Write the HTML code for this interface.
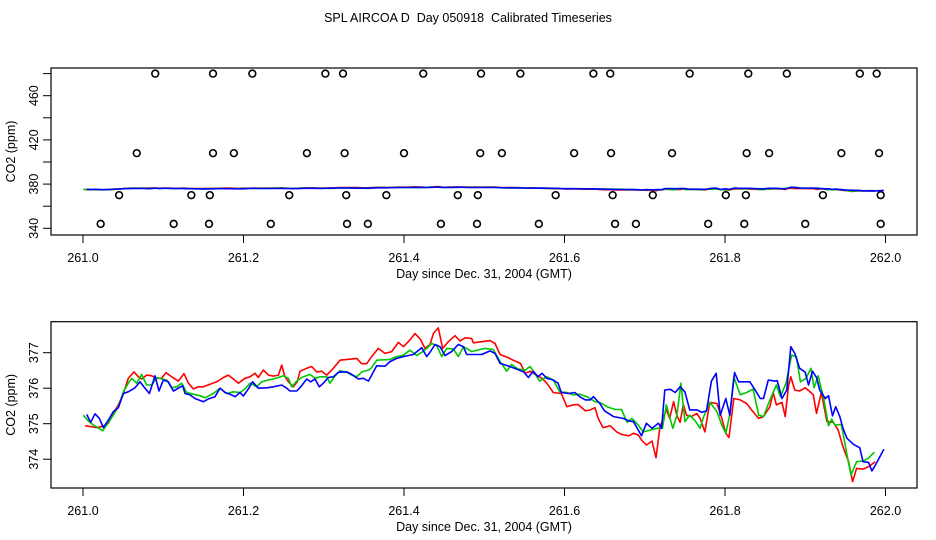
<!DOCTYPE html>
<html><head><meta charset="utf-8"><style>
html,body{margin:0;padding:0;background:#fff;}
svg{display:block;font-family:"Liberation Sans",sans-serif;}
</style></head><body>
<svg id="chart" width="936" height="540" viewBox="0 0 936 540" xmlns="http://www.w3.org/2000/svg">
<text x="468" y="22" font-size="12.5" text-anchor="middle" style="white-space:pre" xml:space="preserve">SPL AIRCOA D  Day 050918  Calibrated Timeseries</text>
</svg>
<script>
// ---- data (days are fraction after day 261) ----
const xTicks = [261.0, 261.2, 261.4, 261.6, 261.8, 262.0];
const topYTicks = [340, 360, 380, 400, 420, 440, 460, 480];
const topYLabels = [340, 380, 420, 460];
const botYTicks = [374, 375, 376, 377];

const redDays = [0.0025,0.0087,0.017,0.0253,0.0316,0.0378,0.044,0.0503,0.0565,0.0636,0.069,0.0731,0.0793,0.0856,0.0918,0.098,0.1034,0.1105,0.1188,0.1259,0.1313,0.1375,0.1437,0.15,0.1583,0.1666,0.1749,0.1811,0.1873,0.1936,0.2019,0.2081,0.2143,0.2185,0.2247,0.231,0.2372,0.2435,0.2476,0.2517,0.2559,0.2621,0.2671,0.2704,0.2787,0.285,0.2912,0.2974,0.3037,0.312,0.3203,0.341,0.3473,0.3535,0.3597,0.368,0.3763,0.3847,0.393,0.3992,0.4075,0.4137,0.42,0.4262,0.4324,0.4366,0.4428,0.4482,0.4553,0.4636,0.4698,0.4761,0.4844,0.4864,0.4968,0.5072,0.5134,0.5197,0.530,0.536,0.545,0.551,0.557,0.565,0.572,0.578,0.586,0.596,0.603,0.611,0.617,0.626,0.632,0.638,0.642,0.648,0.657,0.665,0.671,0.680,0.686,0.692,0.696,0.702,0.709,0.714,0.719,0.722,0.727,0.731,0.736,0.740,0.744,0.748,0.752,0.758,0.765,0.769,0.775,0.781,0.790,0.796,0.801,0.805,0.811,0.819,0.827,0.833,0.842,0.848,0.856,0.860,0.864,0.871,0.875,0.879,0.882,0.887,0.893,0.900,0.906,0.910,0.914,0.920,0.927,0.935,0.941,0.947,0.954,0.959,0.964,0.972,0.979,0.987];
const redVals = [374.94,374.92,374.89,374.93,375.01,375.29,375.53,375.85,376.28,376.46,376.32,376.26,376.37,376.35,376.28,376.28,376.44,376.32,376.2,376.41,376.14,375.98,376.04,376.04,376.11,376.18,376.3,376.37,376.26,376.14,376.28,376.32,376.42,376.3,376.51,376.37,376.34,376.37,376.65,376.32,376.18,376.04,376.18,376.48,376.56,376.61,376.46,376.48,376.37,376.56,376.79,376.84,376.69,376.69,376.89,377.12,376.98,377.03,377.29,377.17,377.36,377.54,377.39,377.12,377.23,377.54,377.7,377.12,377.31,377.48,377.33,377.42,377.4,377.28,377.31,377.34,377.26,376.95,376.86,376.79,376.7,376.42,376.48,376.37,376.28,376.14,375.88,375.85,375.48,375.53,375.54,375.36,375.39,375.45,375.15,374.89,374.94,374.77,374.70,374.66,374.73,374.68,374.54,374.4,374.51,374.04,374.92,375.08,375.4,375.15,375.62,375.23,375.04,375.54,375.24,375.2,375.29,375.15,374.77,375.6,375.57,375.15,374.73,374.61,375.71,375.67,375.57,375.39,375.15,375.2,375.48,375.88,375.53,375.6,375.2,376.04,376.32,375.95,375.92,376.01,375.9,375.81,375.29,375.88,375.06,375.04,374.82,374.35,373.93,373.37,373.74,373.72,373.79,373.93];

const greenDays = [0.0004,0.0066,0.0129,0.0212,0.0245,0.0295,0.0378,0.044,0.0503,0.0565,0.0607,0.0669,0.0731,0.0793,0.0856,0.0918,0.098,0.1043,0.1105,0.1167,0.123,0.1292,0.1375,0.1458,0.152,0.1624,0.1707,0.179,0.1873,0.1956,0.2019,0.2081,0.2164,0.2227,0.231,0.2372,0.2435,0.2497,0.2559,0.2601,0.2663,0.2725,0.2829,0.2891,0.2954,0.3037,0.3078,0.3141,0.3203,0.3286,0.3348,0.341,0.3473,0.3556,0.3597,0.366,0.3826,0.3909,0.3992,0.4075,0.4158,0.422,0.4283,0.4345,0.4407,0.447,0.4532,0.4615,0.4677,0.474,0.4844,0.4927,0.501,0.5113,0.5197,0.528,0.534,0.542,0.551,0.557,0.563,0.569,0.578,0.586,0.594,0.603,0.611,0.619,0.628,0.638,0.644,0.653,0.663,0.671,0.678,0.684,0.692,0.698,0.707,0.715,0.722,0.727,0.735,0.740,0.745,0.750,0.756,0.763,0.769,0.773,0.781,0.790,0.796,0.801,0.806,0.811,0.819,0.827,0.835,0.842,0.848,0.856,0.864,0.869,0.876,0.883,0.889,0.894,0.901,0.907,0.911,0.916,0.923,0.929,0.933,0.937,0.945,0.952,0.957,0.964,0.972,0.979,0.986];
const greenVals = [375.24,375.08,374.96,374.85,374.8,374.96,375.24,375.48,375.9,376.14,376.28,376.14,376.39,376.09,376.09,376.3,376.26,376.23,376.01,376.04,376.14,375.88,375.83,375.79,375.73,375.85,376.0,375.85,375.9,375.88,375.98,376.14,376.04,376.18,376.23,376.26,376.3,376.35,376.28,376.04,376.2,376.3,376.39,376.28,376.32,376.32,376.14,376.35,376.49,376.45,376.37,376.32,376.46,376.51,376.58,376.79,376.81,376.89,376.93,377.07,376.92,377.01,377.12,377.26,377.2,376.89,377.12,377.1,376.89,377.17,377.03,377.08,377.12,377.09,376.75,376.48,376.67,376.54,376.51,376.61,376.42,376.2,376.32,376.23,375.9,375.88,375.81,375.83,375.76,375.62,375.6,375.48,375.4,375.4,375.04,375.15,374.96,374.77,374.82,374.87,374.87,375.53,374.87,375.24,376.14,375.06,375.24,375.08,374.87,375.17,375.6,375.34,374.96,374.73,375.26,376.32,375.81,375.88,375.98,375.24,375.2,375.67,376.09,375.76,376.14,376.93,376.89,376.18,376.28,376.56,376.01,376.35,375.71,374.94,375.13,374.96,374.98,374.12,373.55,373.93,373.95,374.03,374.2];

const blueDays = [0.0046,0.0096,0.015,0.0204,0.0253,0.0316,0.0378,0.044,0.0503,0.0565,0.0648,0.071,0.0773,0.0827,0.0897,0.0947,0.1001,0.1063,0.1126,0.1188,0.1242,0.1271,0.1333,0.1396,0.15,0.1562,0.1645,0.1707,0.177,0.1832,0.1894,0.1956,0.1998,0.206,0.2114,0.2185,0.2289,0.2372,0.2476,0.2538,0.258,0.2663,0.2725,0.2787,0.2837,0.2891,0.2945,0.2995,0.3057,0.312,0.3182,0.3286,0.3348,0.3431,0.3493,0.3556,0.3597,0.366,0.3763,0.3826,0.3909,0.3992,0.4116,0.422,0.4283,0.4324,0.4386,0.4449,0.4511,0.4594,0.4677,0.474,0.4781,0.4968,0.5072,0.5134,0.5197,0.532,0.540,0.549,0.555,0.561,0.567,0.572,0.578,0.586,0.592,0.596,0.605,0.613,0.619,0.626,0.632,0.636,0.644,0.650,0.661,0.673,0.680,0.686,0.692,0.696,0.702,0.709,0.713,0.717,0.721,0.725,0.732,0.738,0.744,0.750,0.756,0.765,0.771,0.777,0.783,0.789,0.794,0.801,0.806,0.812,0.817,0.831,0.835,0.844,0.848,0.854,0.862,0.865,0.871,0.877,0.882,0.887,0.893,0.900,0.904,0.909,0.914,0.918,0.925,0.929,0.934,0.938,0.943,0.947,0.952,0.960,0.968,0.972,0.979,0.983,0.987,0.998];
const blueVals = [375.26,375.04,375.28,375.15,374.89,375.10,375.34,375.45,375.85,375.90,376.01,376.18,376.00,375.85,376.35,375.92,376.23,376.18,375.92,376.00,376.07,375.85,375.81,375.71,375.62,375.70,375.76,376.00,375.88,375.83,375.76,375.88,375.78,375.98,376.18,376.00,376.01,376.04,376.09,376.00,375.92,375.92,376.07,376.26,376.18,376.26,376.04,376.14,376.30,376.32,376.45,376.46,376.39,376.26,376.28,376.20,376.37,376.63,376.62,376.75,376.84,376.89,376.95,377.14,376.89,377.01,377.23,377.17,376.92,377.03,377.23,377.17,376.95,376.95,377.05,376.98,376.70,376.61,376.54,376.46,376.30,376.48,376.32,376.42,376.28,376.23,376.14,375.88,375.85,375.88,375.76,375.67,375.67,375.76,375.57,375.36,375.2,375.15,375.08,375.06,374.82,374.66,375.01,374.87,374.94,375.01,374.87,375.95,375.97,375.88,376.04,375.90,375.39,375.39,375.32,375.36,376.2,376.42,375.24,375.71,375.24,376.44,376.18,376.18,376.04,375.71,375.71,376.23,376.2,376.21,375.71,375.95,377.17,376.98,376.56,376.45,376.09,376.48,376.3,375.95,375.71,375.79,375.22,375.48,375.2,374.87,374.59,374.42,374.32,373.93,373.91,373.67,373.82,374.28];

const circleDays = [0.090,0.162,0.211,0.302,0.324,0.424,0.496,0.545,0.636,0.657,0.756,0.829,0.877,0.968,0.989,
 0.067,0.162,0.188,0.279,0.326,0.400,0.495,0.522,0.612,0.658,0.734,0.827,0.855,0.945,0.992,
 0.045,0.135,0.158,0.257,0.328,0.378,0.467,0.492,0.589,0.660,0.710,0.801,0.826,0.922,0.994,
 0.022,0.113,0.157,0.234,0.329,0.355,0.446,0.491,0.568,0.663,0.689,0.779,0.824,0.900,0.994];
const circleVals = [480,480,480,480,480,480,480,480,480,480,480,480,480,480,480,
 408,408,408,408,408,408,408,408,408,408,408,408,408,408,408,
 370,370,370,370,370,370,370,370,370,370,370,370,370,370,370,
 344,344,344,344,344,344,344,344,344,344,344,344,344,344,344];

const NS = 'http://www.w3.org/2000/svg';
const svg = document.getElementById('chart');
function mk(tag, attrs, parent){const e=document.createElementNS(NS,tag);for(const k in attrs)e.setAttribute(k,attrs[k]);(parent||svg).appendChild(e);return e;}

const xScale = d => 83 + (d - 261) * 802.5;
const topY = v => 228.3 - (v - 340) * 1.105;
const botY = v => 352.7 - (v - 377) * 35.5;

function panel(name, top, bottom, yScale, yTicks, yLabels){
  const g = mk('g', {});
  
  
  const box = mk('rect', {x:51, y:top, width:866, height:bottom-top, fill:'none', stroke:'#000', 'stroke-width':1.2}, g);
  
  
  xTicks.forEach(t => {
    const x = xScale(t);
    const tk = mk('line', {x1:x, x2:x, y1:bottom, y2:bottom+8, stroke:'#000', 'stroke-width':1}, g);
    
    
    const lb = mk('text', {x:x, y:bottom+27, 'font-size':12.5, 'text-anchor':'middle'}, g);
    lb.textContent = t.toFixed(1);
    
    
  });
  yTicks.forEach(t => {
    const y = yScale(t);
    const tk = mk('line', {x1:43, x2:51, y1:y, y2:y, stroke:'#000', 'stroke-width':1}, g);
    
    
  });
  yLabels.forEach(t => {
    const y = yScale(t);
    const lb = mk('text', {x:0, y:0, 'font-size':12.5, 'text-anchor':'middle', transform:`translate(38,${y}) rotate(-90)`}, g);
    lb.textContent = String(t);
    
    
  });
  const xl = mk('text', {x:484, y:bottom+43, 'font-size':12.5, 'text-anchor':'middle'}, g);
  xl.textContent = 'Day since Dec. 31, 2004 (GMT)';
  
  
  const yl = mk('text', {x:0, y:0, 'font-size':12.5, 'text-anchor':'middle', transform:`translate(15,${(top+bottom)/2}) rotate(-90)`}, g);
  yl.textContent = 'CO2 (ppm)';
  
  
  return g;
}

function series(g, days, vals, yScale, color, name){
  const pts = days.map((d,i) => xScale(261 + d).toFixed(1) + ',' + yScale(vals[i]).toFixed(1)).join(' ');
  const pl = mk('polyline', {points:pts, fill:'none', stroke:color, 'stroke-width':1.6, 'stroke-linejoin':'round'}, g);
  
  
}

const gTop = panel('top-panel', 68, 235, topY, topYTicks, topYLabels);
series(gTop, redDays, redVals, topY, '#ff0000', 'top-series-red');
series(gTop, greenDays, greenVals, topY, '#00c800', 'top-series-green');
series(gTop, blueDays, blueVals, topY, '#0000ff', 'top-series-blue');
circleDays.forEach((d,i) => {
  const c = mk('circle', {cx:xScale(261 + d), cy:topY(circleVals[i]), r:3.4, fill:'none', stroke:'#000', 'stroke-width':1.6}, gTop);
  
  
});

const gBot = panel('bottom-panel', 321.7, 488, botY, botYTicks, botYTicks);
series(gBot, redDays, redVals, botY, '#ff0000', 'series-red');
series(gBot, greenDays, greenVals, botY, '#00c800', 'series-green');
series(gBot, blueDays, blueVals, botY, '#0000ff', 'series-blue');
</script>
</body></html>
